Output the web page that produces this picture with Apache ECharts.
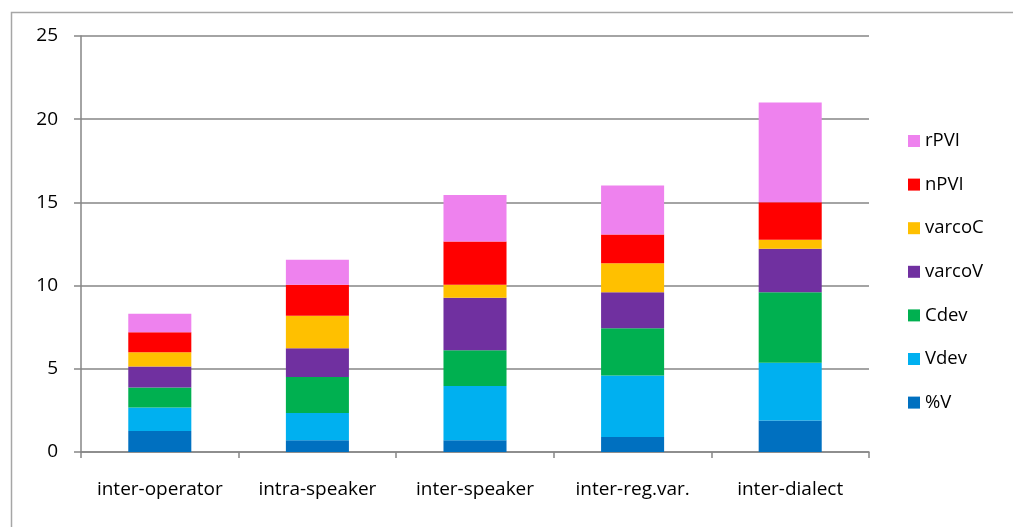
<!DOCTYPE html>
<html>
<head>
<meta charset="utf-8">
<script src="https://cdn.jsdelivr.net/npm/echarts@6/dist/echarts.min.js"></script>
<style>html,body{margin:0;padding:0;background:#fff}#c{width:1013px;height:527px}</style>
</head>
<body>
<div id="c"></div>
<script>
const categories = ['inter-operator', 'intra-speaker', 'inter-speaker', 'inter-reg.var.', 'inter-dialect'];
const pctV   = [1.26, 0.70, 0.70, 0.90, 1.90];
const Vdev   = [1.41, 1.64, 3.26, 3.70, 3.47];
const Cdev   = [1.20, 2.16, 2.16, 2.84, 4.23];
const varcoV = [1.27, 1.74, 3.15, 2.16, 2.61];
const varcoC = [0.86, 1.95, 0.78, 1.74, 0.54];
const nPVI   = [1.20, 1.86, 2.60, 1.73, 2.26];
const rPVI   = [1.11, 1.50, 2.80, 2.94, 6.00];
const yTicks = [0, 5, 10, 15, 20, 25];

const seriesDefs = [
  ['%V', pctV, '#0070c0'],
  ['Vdev', Vdev, '#00b0f0'],
  ['Cdev', Cdev, '#00b050'],
  ['varcoV', varcoV, '#7030a0'],
  ['varcoC', varcoC, '#ffc000'],
  ['nPVI', nPVI, '#ff0000'],
  ['rPVI', rPVI, '#ee82ee']
];

const font = 'Open Sans';
const chart = echarts.init(document.getElementById('c'));
chart.setOption({
  animation: false,
  backgroundColor: '#fff',
  graphic: [{
    type: 'rect', left: 9, top: 10, silent: true,
    shape: {width: 1100, height: 600},
    style: {fill: 'none', stroke: '#a6a6a6', lineWidth: 1.5}
  }],
  grid: {left: 81, right: 144, top: 36, bottom: 75},
  legend: {
    orient: 'vertical', left: 903, top: 126.5, itemGap: 24.6,
    itemWidth: 12, itemHeight: 12, icon: 'rect',
    data: seriesDefs.map(s => s[0]).reverse(),
    textStyle: {fontFamily: font, fontSize: 18.5, color: '#000'}
  },
  xAxis: {
    type: 'category', data: categories,
    axisLine: {lineStyle: {color: '#868686', width: 1.5}},
    axisTick: {show: true, length: 6, lineStyle: {color: '#868686', width: 1.5}},
    axisLabel: {fontFamily: font, fontSize: 19, color: '#000', margin: 28, interval: 0, hideOverlap: false}
  },
  yAxis: {
    type: 'value', min: yTicks[0], max: yTicks[yTicks.length - 1], interval: 5,
    axisLine: {show: true, lineStyle: {color: '#868686', width: 1.5}},
    axisTick: {show: true, length: 7, lineStyle: {color: '#868686', width: 1.5}},
    splitLine: {lineStyle: {color: '#868686', width: 1.5}},
    axisLabel: {fontFamily: font, fontSize: 19, color: '#000', margin: 23}
  },
  series: seriesDefs.map(([name, data, color]) => ({
    name, type: 'bar', stack: 'total', data, barWidth: '40%',
    itemStyle: {color}
  }))
});
</script>
</body>
</html>
